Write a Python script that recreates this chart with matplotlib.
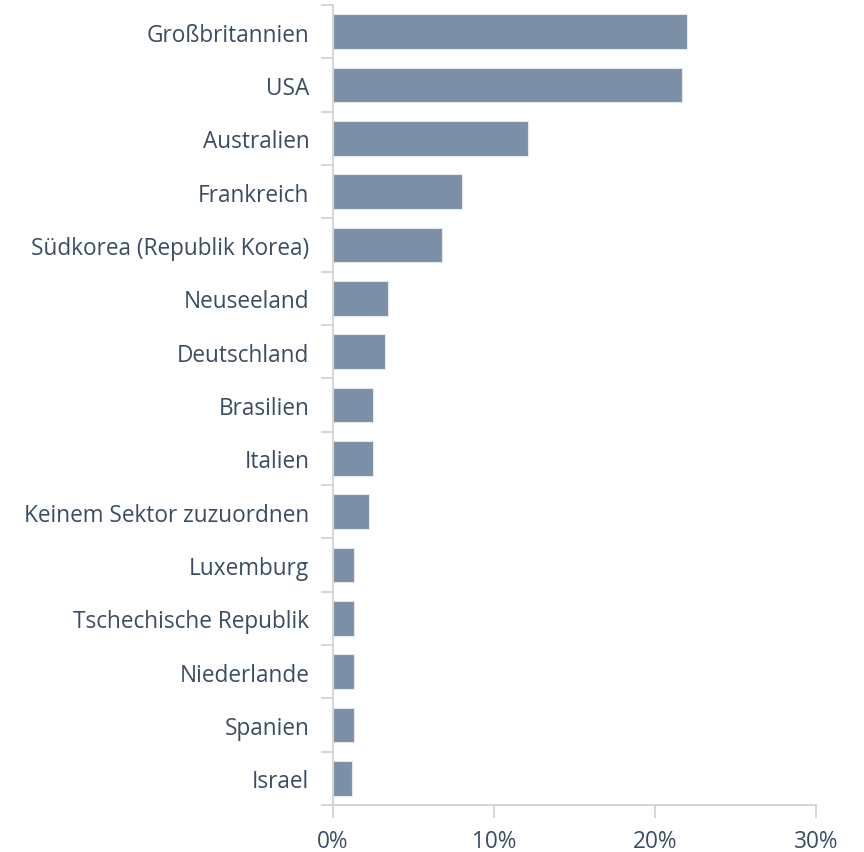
import matplotlib
matplotlib.use("Agg")
import matplotlib.pyplot as plt
from matplotlib.ticker import FixedLocator, FuncFormatter
import numpy as np

countries = [
    "Großbritannien", "USA", "Australien", "Frankreich",
    "Südkorea (Republik Korea)", "Neuseeland", "Deutschland", "Brasilien",
    "Italien", "Keinem Sektor zuzuordnen", "Luxemburg",
    "Tschechische Republik", "Niederlande", "Spanien", "Israel",
]
shares = [22.0, 21.7, 12.1, 8.0, 6.8, 3.4, 3.2, 2.5, 2.5, 2.25,
          1.32, 1.32, 1.32, 1.32, 1.16]
x_ticks = [0, 10, 20, 30]

text_color = "#3b4d63"
bar_color = "#7b90a7"
axis_color = "#d0d0d0"

plt.rcParams["font.family"] = ["Open Sans", "DejaVu Sans"]

fig = plt.figure(figsize=(8.64, 8.53), dpi=100)
ax = fig.add_axes([333 / 864, 1 - 806 / 853, (816 - 333) / 864, (806 - 6) / 853])

y = np.arange(len(countries))
ax.barh(y, shares, height=0.65, color=bar_color, edgecolor="#e4e8ee", linewidth=0.8)

ax.set_ylim(len(countries) - 0.5, -0.5)
ax.set_xlim(0, 30)

# category boundaries carry the tick marks, labels sit at bar centres
ax.yaxis.set_major_locator(FixedLocator(np.arange(-0.5, len(countries), 1.0)))
ax.yaxis.set_major_formatter(FuncFormatter(lambda v, p: ""))
ax.yaxis.set_minor_locator(FixedLocator(y))
ax.set_yticklabels(countries, minor=True)
ax.tick_params(axis="y", which="major", length=9, width=1.2, color=axis_color)
ax.tick_params(axis="y", which="minor", length=0, pad=17, labelsize=16.3,
               labelcolor=text_color)

ax.set_xticks(x_ticks)
ax.set_xticklabels([f"{t}%" for t in x_ticks])
ax.tick_params(axis="x", length=9, width=1.2, color=axis_color, pad=8,
               labelsize=16.3, labelcolor=text_color)

for side in ["top", "right"]:
    ax.spines[side].set_visible(False)
for side in ["left", "bottom"]:
    ax.spines[side].set_color(axis_color)
    ax.spines[side].set_linewidth(1.2)

fig.savefig("out.png", dpi=100, facecolor="white")
